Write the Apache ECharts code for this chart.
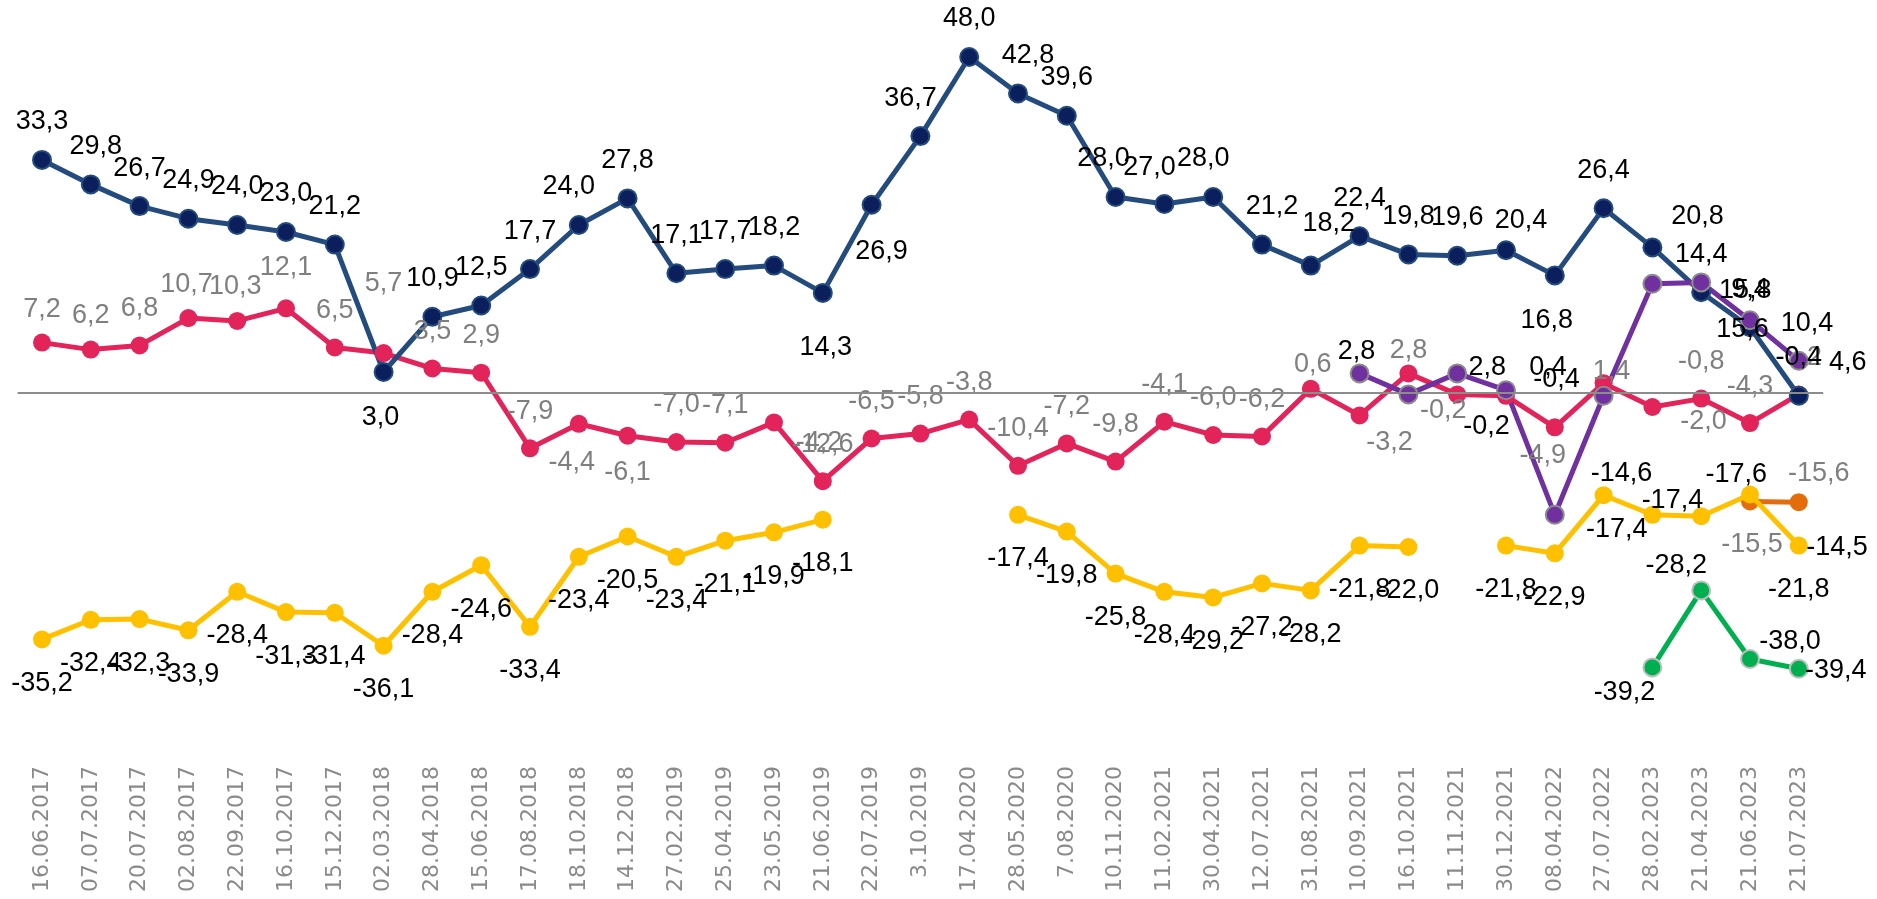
<!DOCTYPE html>
<html><head><meta charset="utf-8">
<script src="https://cdn.jsdelivr.net/npm/echarts@6/dist/echarts.min.js"></script>
<style>html,body{margin:0;padding:0;background:#fff}#c{width:1877px;height:899px}</style>
</head><body><div id="c"></div>
<script>
const categories = ['16.06.2017','07.07.2017','20.07.2017','02.08.2017','22.09.2017','16.10.2017','15.12.2017','02.03.2018','28.04.2018','15.06.2018','17.08.2018','18.10.2018','14.12.2018','27.02.2019','25.04.2019','23.05.2019','21.06.2019','22.07.2019','3.10.2019','17.04.2020','28.05.2020','7.08.2020','10.11.2020','11.02.2021','30.04.2021','12.07.2021','31.08.2021','10.09.2021','16.10.2021','11.11.2021','30.12.2021','08.04.2022','27.07.2022','28.02.2023','21.04.2023','21.06.2023','21.07.2023'];
const navy = [33.3,29.8,26.7,24.9,24.0,23.0,21.2,3.0,10.9,12.5,17.7,24.0,27.8,17.1,17.7,18.2,14.3,26.9,36.7,48.0,42.8,39.6,28.0,27.0,28.0,21.2,18.2,22.4,19.8,19.6,20.4,16.8,26.4,20.8,14.4,9.4,-0.4];
const pink = [7.2,6.2,6.8,10.7,10.3,12.1,6.5,5.7,3.5,2.9,-7.9,-4.4,-6.1,-7.0,-7.1,-4.2,-12.6,-6.5,-5.8,-3.8,-10.4,-7.2,-9.8,-4.1,-6.0,-6.2,0.6,-3.2,2.8,-0.2,-0.4,-4.9,1.4,-2.0,-0.8,-4.3,-0.2];
const yellow = [-35.2,-32.4,-32.3,-33.9,-28.4,-31.3,-31.4,-36.1,-28.4,-24.6,-33.4,-23.4,-20.5,-23.4,-21.1,-19.9,-18.1,null,null,null,-17.4,-19.8,-25.8,-28.4,-29.2,-27.2,-28.2,-21.8,-22.0,null,-21.8,-22.9,-14.6,-17.4,-17.6,-14.5,-21.8];
const purple = [null,null,null,null,null,null,null,null,null,null,null,null,null,null,null,null,null,null,null,null,null,null,null,null,null,null,null,2.8,-0.2,2.8,0.4,-17.4,-0.4,15.6,15.8,10.4,4.6];
const green = [null,null,null,null,null,null,null,null,null,null,null,null,null,null,null,null,null,null,null,null,null,null,null,null,null,null,null,null,null,null,null,null,null,-39.2,-28.2,-38.0,-39.4];
const orange = [null,null,null,null,null,null,null,null,null,null,null,null,null,null,null,null,null,null,null,null,null,null,null,null,null,null,null,null,null,null,null,null,null,null,null,-15.5,-15.6];

// label placement (layout only)
const navyOff = {1:[5,-38],7:[-3,46],11:[-10,-38],16:[3,55],17:[10,47],18:[-10,-38],20:[10,-38],22:[-12,-38],23:[-15,-36],24:[-10,-38],25:[10,-38],26:[18,-42],30:[15,-30],31:[-8,45],33:[45,-31]};
const pinkOff = {0:[0,-33],1:[0,-34],3:[-2,-34],4:[-2,-34],5:[0,-41],7:[0,-70],11:[-7,39],12:[0,37],15:[45,20],26:[2,-24],27:[30,27],28:[0,-23],29:[-14,16],31:[-12,28],32:[8,-12],33:[51,15]};
const yellowOff = {32:[18,-22],33:[20,-14],34:[35,-42],35:[87,53]};
const purpleOff = {27:[-3,-22],28:[78,32],29:[30,-6],30:[42,-23],31:[62,15],32:[-47,-16],33:[90,46],34:[44,8],35:[57,3],36:[49,2]};
const greenOff = {33:[-28,25],34:[-25,-25],35:[40,-17],36:[37,2]};
const orangeOff = {35:[2,43],36:[20,-29]};

function build(vals, off, def, hide) {
  return vals.map((v, i) => v == null ? '-' : {value: v, label: {offset: off[i] || def, show: !(hide && hide.indexOf(i) >= 0)}});
}
const fmt = p => (typeof p.value === 'number') ? p.value.toFixed(1).replace('.', ',') : '';

function mk(name, vals, off, def, lineColor, fill, border, borderW, labelColor, hide) {
  return {
    name, type: 'line', data: build(vals, off, def, hide),
    symbol: 'circle', symbolSize: 18, showSymbol: true, connectNulls: false,
    lineStyle: {color: lineColor, width: 5},
    itemStyle: {color: fill, borderColor: border, borderWidth: borderW},
    label: {show: true, position: 'inside', align: 'center', verticalAlign: 'middle',
      formatter: fmt, color: labelColor, fontSize: 27, fontFamily: 'Liberation Sans'},
    emphasis: {disabled: true}
  };
}

const chart = echarts.init(document.getElementById('c'), null, {renderer: 'canvas'});
const series = [
  mk('orange', orange, orangeOff, [0,-37], '#E46C0A', '#E46C0A', '#E46C0A', 0, '#7F7F7F'),
  mk('yellow', yellow, yellowOff, [0,44], '#FFC000', '#FFC000', '#FFC000', 0, '#000000'),
  mk('pink', pink, pinkOff, [0,-37], '#E2245A', '#E2245A', '#E2245A', 0, '#7F7F7F', [30]),
  mk('green', green, greenOff, [0,-37], '#00B050', '#00B050', '#BFBFBF', 2, '#000000'),
  mk('navy', navy, navyOff, [0,-38], '#234B7E', '#0B1F5C', '#234B7E', 2, '#000000'),
  mk('purple', purple, purpleOff, [0,-37], '#7030A0', '#7030A0', '#8C8C8C', 2, '#000000')
];
series[0].markLine = {silent: true, symbol: ['none','none'], label: {show: false},
  lineStyle: {color: '#8C8C8C', width: 2, type: 'solid'}, data: [{yAxis: 0}]};
series[0].z = 1;

chart.setOption({
  animation: false,
  backgroundColor: '#ffffff',
  grid: {left: 17.6, right: 53.8, top: 43, bottom: 156, containLabel: false},
  xAxis: {type: 'category', data: categories, boundaryGap: true,
    axisLine: {show: false}, axisTick: {show: false}, splitLine: {show: false},
    axisLabel: {interval: 0, rotate: 90, fontSize: 22, fontFamily: 'DejaVu Sans', color: '#8A8A8A', margin: 23}},
  yAxis: {type: 'value', min: -50, max: 50, show: false},
  series
});
</script></body></html>
